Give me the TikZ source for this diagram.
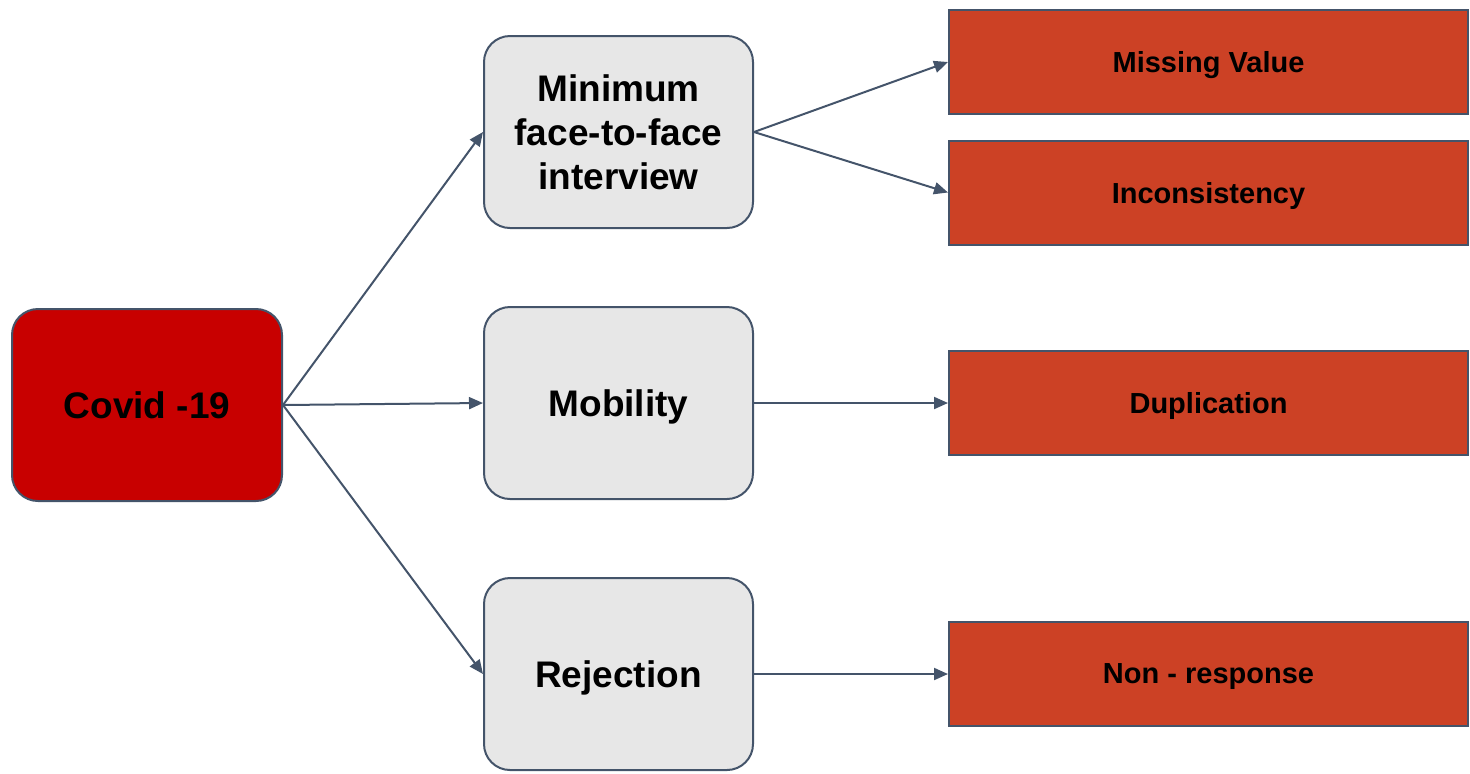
\documentclass[tikz,border=0pt]{standalone}
\usepackage{fontspec}
\setmainfont{Liberation Sans}
\usetikzlibrary{arrows.meta}
\definecolor{edge}{HTML}{44546A}
\definecolor{covidred}{HTML}{C80000}
\definecolor{midgray}{HTML}{E7E7E7}
\definecolor{berry}{HTML}{CC4125}
\begin{document}
\begin{tikzpicture}[x=0.5pt,y=-0.5pt,
  rootbox/.style={draw=edge,line width=1pt,fill=covidred,rounded corners=13pt,minimum width=135pt,minimum height=96pt,inner sep=0pt,text depth=0pt,font=\fontsize{18.5}{22}\selectfont\bfseries,align=center},
  midbox/.style={draw=edge,line width=1pt,fill=midgray,rounded corners=13pt,minimum width=134.5pt,minimum height=96pt,inner sep=0pt,text depth=0pt,font=\fontsize{18.5}{22}\selectfont\bfseries,align=center},
  outbox/.style={draw=edge,line width=1pt,fill=berry,minimum width=259.5pt,minimum height=52pt,inner sep=0pt,text depth=0pt,font=\fontsize{14.5}{17}\selectfont\bfseries,align=center},
  conn/.style={draw=edge,line width=1pt,-{Triangle[length=7pt,width=6pt]},shorten >=0pt}]
\useasboundingbox (0,0) rectangle (1470,773);
\node[rootbox] (covid) at (147,405) {Covid -19};
\node[midbox] (m1) at (618.5,132) {Minimum\\face-to-face\\interview};
\node[midbox] (m2) at (618.5,403) {Mobility};
\node[midbox] (m3) at (618.5,674) {Rejection};
\node[outbox] (o1) at (1208.5,62) {Missing Value};
\node[outbox] (o2) at (1208.5,192.5) {Inconsistency};
\node[outbox] (o3) at (1208.5,403) {Duplication};
\node[outbox] (o4) at (1208.5,674) {Non - response};
\draw[conn] (covid.east) -- (m1.west);
\draw[conn] (covid.east) -- (m2.west);
\draw[conn] (covid.east) -- (m3.west);
\draw[conn] (m1.east) -- (o1.west);
\draw[conn] (m1.east) -- (o2.west);
\draw[conn] (m2.east) -- (o3.west);
\draw[conn] (m3.east) -- (o4.west);
\end{tikzpicture}
\end{document}
